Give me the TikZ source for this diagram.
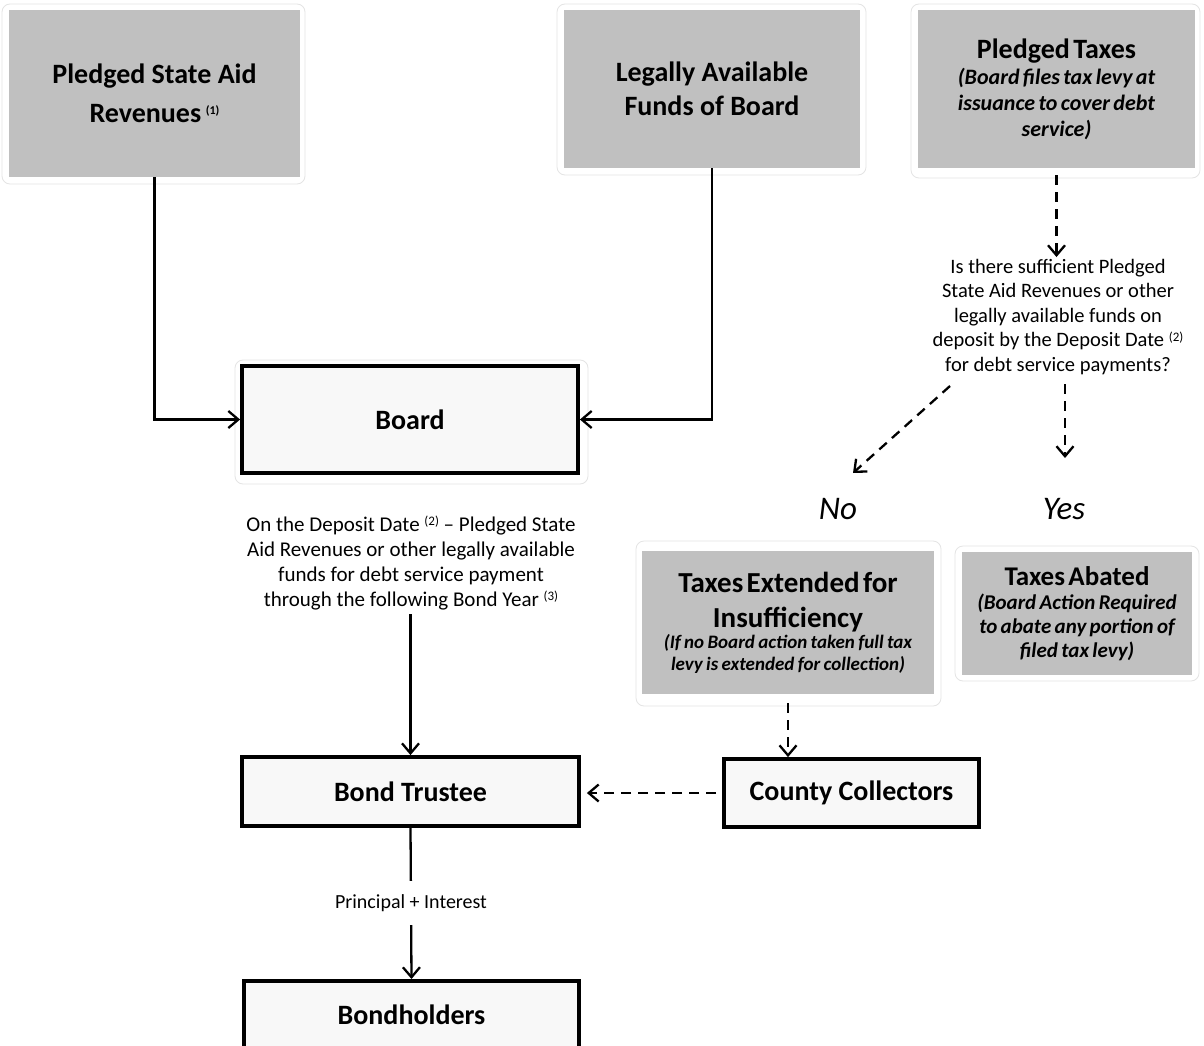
\documentclass[tikz,border=0pt]{standalone}
\usepackage{fontspec}
\setmainfont{Carlito}
\usetikzlibrary{arrows.meta}
\definecolor{boxgray}{HTML}{C0C0C0}
\definecolor{boxwhite}{HTML}{F8F8F8}
\definecolor{halo}{HTML}{E4E4E4}
\newcommand\supn[1]{\raisebox{0.6ex}{\fontsize{13}{13}\selectfont(#1)}}
\newcommand\supb[1]{\raisebox{0.6ex}{\fontsize{12}{12}\selectfont\bfseries(#1)}}
\begin{document}
\begin{tikzpicture}[x=1pt,y=-1pt,
  graybox/.style={fill=boxgray, draw=none, inner sep=0pt},
  whitebox/.style={fill=boxwhite, draw=black, line width=3.8pt, align=center, inner sep=0pt,
    font=\fontsize{28}{32}\selectfont\bfseries},
  halobox/.style={draw=halo, line width=0.8pt, rounded corners=8pt, fill=white},
  conn/.style={line width=2.3pt, -{Straight Barb[length=10pt,width=17pt,line width=2.3pt]}},
  dconn/.style={conn, dash pattern=on 10pt off 7pt},
  plaintext/.style={align=center, inner sep=0pt}]
\useasboundingbox (0,0) rectangle (1204,1046);
\fill[white] (0,0) rectangle (1204,1046);
\clip (0,0) rectangle (1204,1046);

% faint halos behind some boxes
\draw[halobox] (2,4) rectangle (305,184);
\draw[halobox] (557,4) rectangle (866,175);
\draw[halobox] (911,4) rectangle (1200,178);
\draw[halobox] (235,360) rectangle (588,484);
\draw[halobox] (636,541) rectangle (941,706);
\draw[halobox] (955,546) rectangle (1199,681);

% top gray boxes
\node[graybox, minimum width=291, minimum height=167, align=center,
  font=\fontsize{28}{39}\selectfont\bfseries] (psar) at (154.5,93.5)
  {Pledged State Aid\\Revenues\,\supb{1}};
\node[graybox, minimum width=296, minimum height=158, align=center,
  font=\fontsize{28}{34}\selectfont\bfseries] (lafb) at (712,89)
  {Legally Available\\Funds of Board};
\node[graybox, minimum width=277, minimum height=158, text width=270] (ptax) at (1056.5,89)
  {\centering{\fontsize{28}{30}\selectfont\bfseries Pledged Taxes\par}
   {\fontsize{22}{26}\selectfont\bfseries\itshape (Board files tax levy at\\issuance to cover debt\\service)\par}};

% Board
\node[whitebox, minimum width=336, minimum height=107] (board) at (410,419.5) {Board};

% question
\node[plaintext, font=\fontsize{20.5}{24.5}\selectfont] (q) at (1058,317)
  {Is there sufficient Pledged\\State Aid Revenues or other\\legally available funds on\\deposit by the Deposit Date \supn{2}\\for debt service payments?};

\coordinate (noStart) at (950,386);
\coordinate (noEnd) at (853,473);
\coordinate (yesStart) at (1065,384);
\coordinate (yesEnd) at (1065,458);

\node[plaintext, font=\fontsize{33}{40}\selectfont\itshape] (no) at (838,509) {No};
\node[plaintext, font=\fontsize{33}{40}\selectfont\itshape] (yes) at (1064,509) {Yes};

% deposit text
\node[plaintext, font=\fontsize{21}{25}\selectfont] (dep) at (411,563)
  {On the Deposit Date \supn{2} -- Pledged State\\Aid Revenues or other legally available\\funds for debt service payment\\through the following Bond Year \supn{3}};

% gray lower boxes
\node[graybox, minimum width=292, minimum height=143, text width=288] (tei) at (788,622.5)
  {\centering{\fontsize{29}{35}\selectfont\bfseries Taxes Extended for\\Insufficiency\par}
   {\fontsize{19}{21.5}\selectfont\bfseries\itshape (If no Board action taken full tax\\levy is extended for collection)\par}};
\node[graybox, minimum width=230, minimum height=123, text width=228] (tab) at (1077,613.5)
  {\centering{\fontsize{27}{30}\selectfont\bfseries Taxes Abated\par}
   {\fontsize{21}{24}\selectfont\bfseries\itshape (Board Action Required\\to abate any portion of\\filed tax levy)\par}};

% lower white boxes
\node[whitebox, minimum width=337, minimum height=69] (bt) at (410.5,791.5) {Bond Trustee};
\node[whitebox, minimum width=255, minimum height=68] (cc) at (851.5,793) {County Collectors};
\node[whitebox, minimum width=335, minimum height=140, anchor=north] (bh) at (411.5,979) {};
\node[plaintext, font=\fontsize{28}{32}\selectfont\bfseries] (bhl) at (411.5,1015) {Bondholders};

% connectors
\draw[conn] (psar.south) |- (board.west);
\draw[conn] (lafb.south) |- (board.east);
\draw[dconn, shorten <=7pt, shorten >=2pt] (ptax.south) -- (ptax.south |- q.north);
\draw[dconn] (noStart) -- (noEnd);
\draw[dconn] (yesStart) -- (yesEnd);
\draw[conn, shorten <=4pt] (dep.south -| bt.north) -- (bt.north);
\draw[dconn, shorten <=9pt] (tei.south) -- (tei.south |- cc.north);
\draw[dconn, shorten <=6pt, shorten >=6pt] (cc.west) -- (cc.west -| bt.east);
\draw[conn] (bt.south) -- node[fill=white, inner sep=0pt, minimum height=44pt,
  font=\fontsize{20}{24}\selectfont] (pi) {Principal + Interest} (bh.north);
\end{tikzpicture}
\end{document}
